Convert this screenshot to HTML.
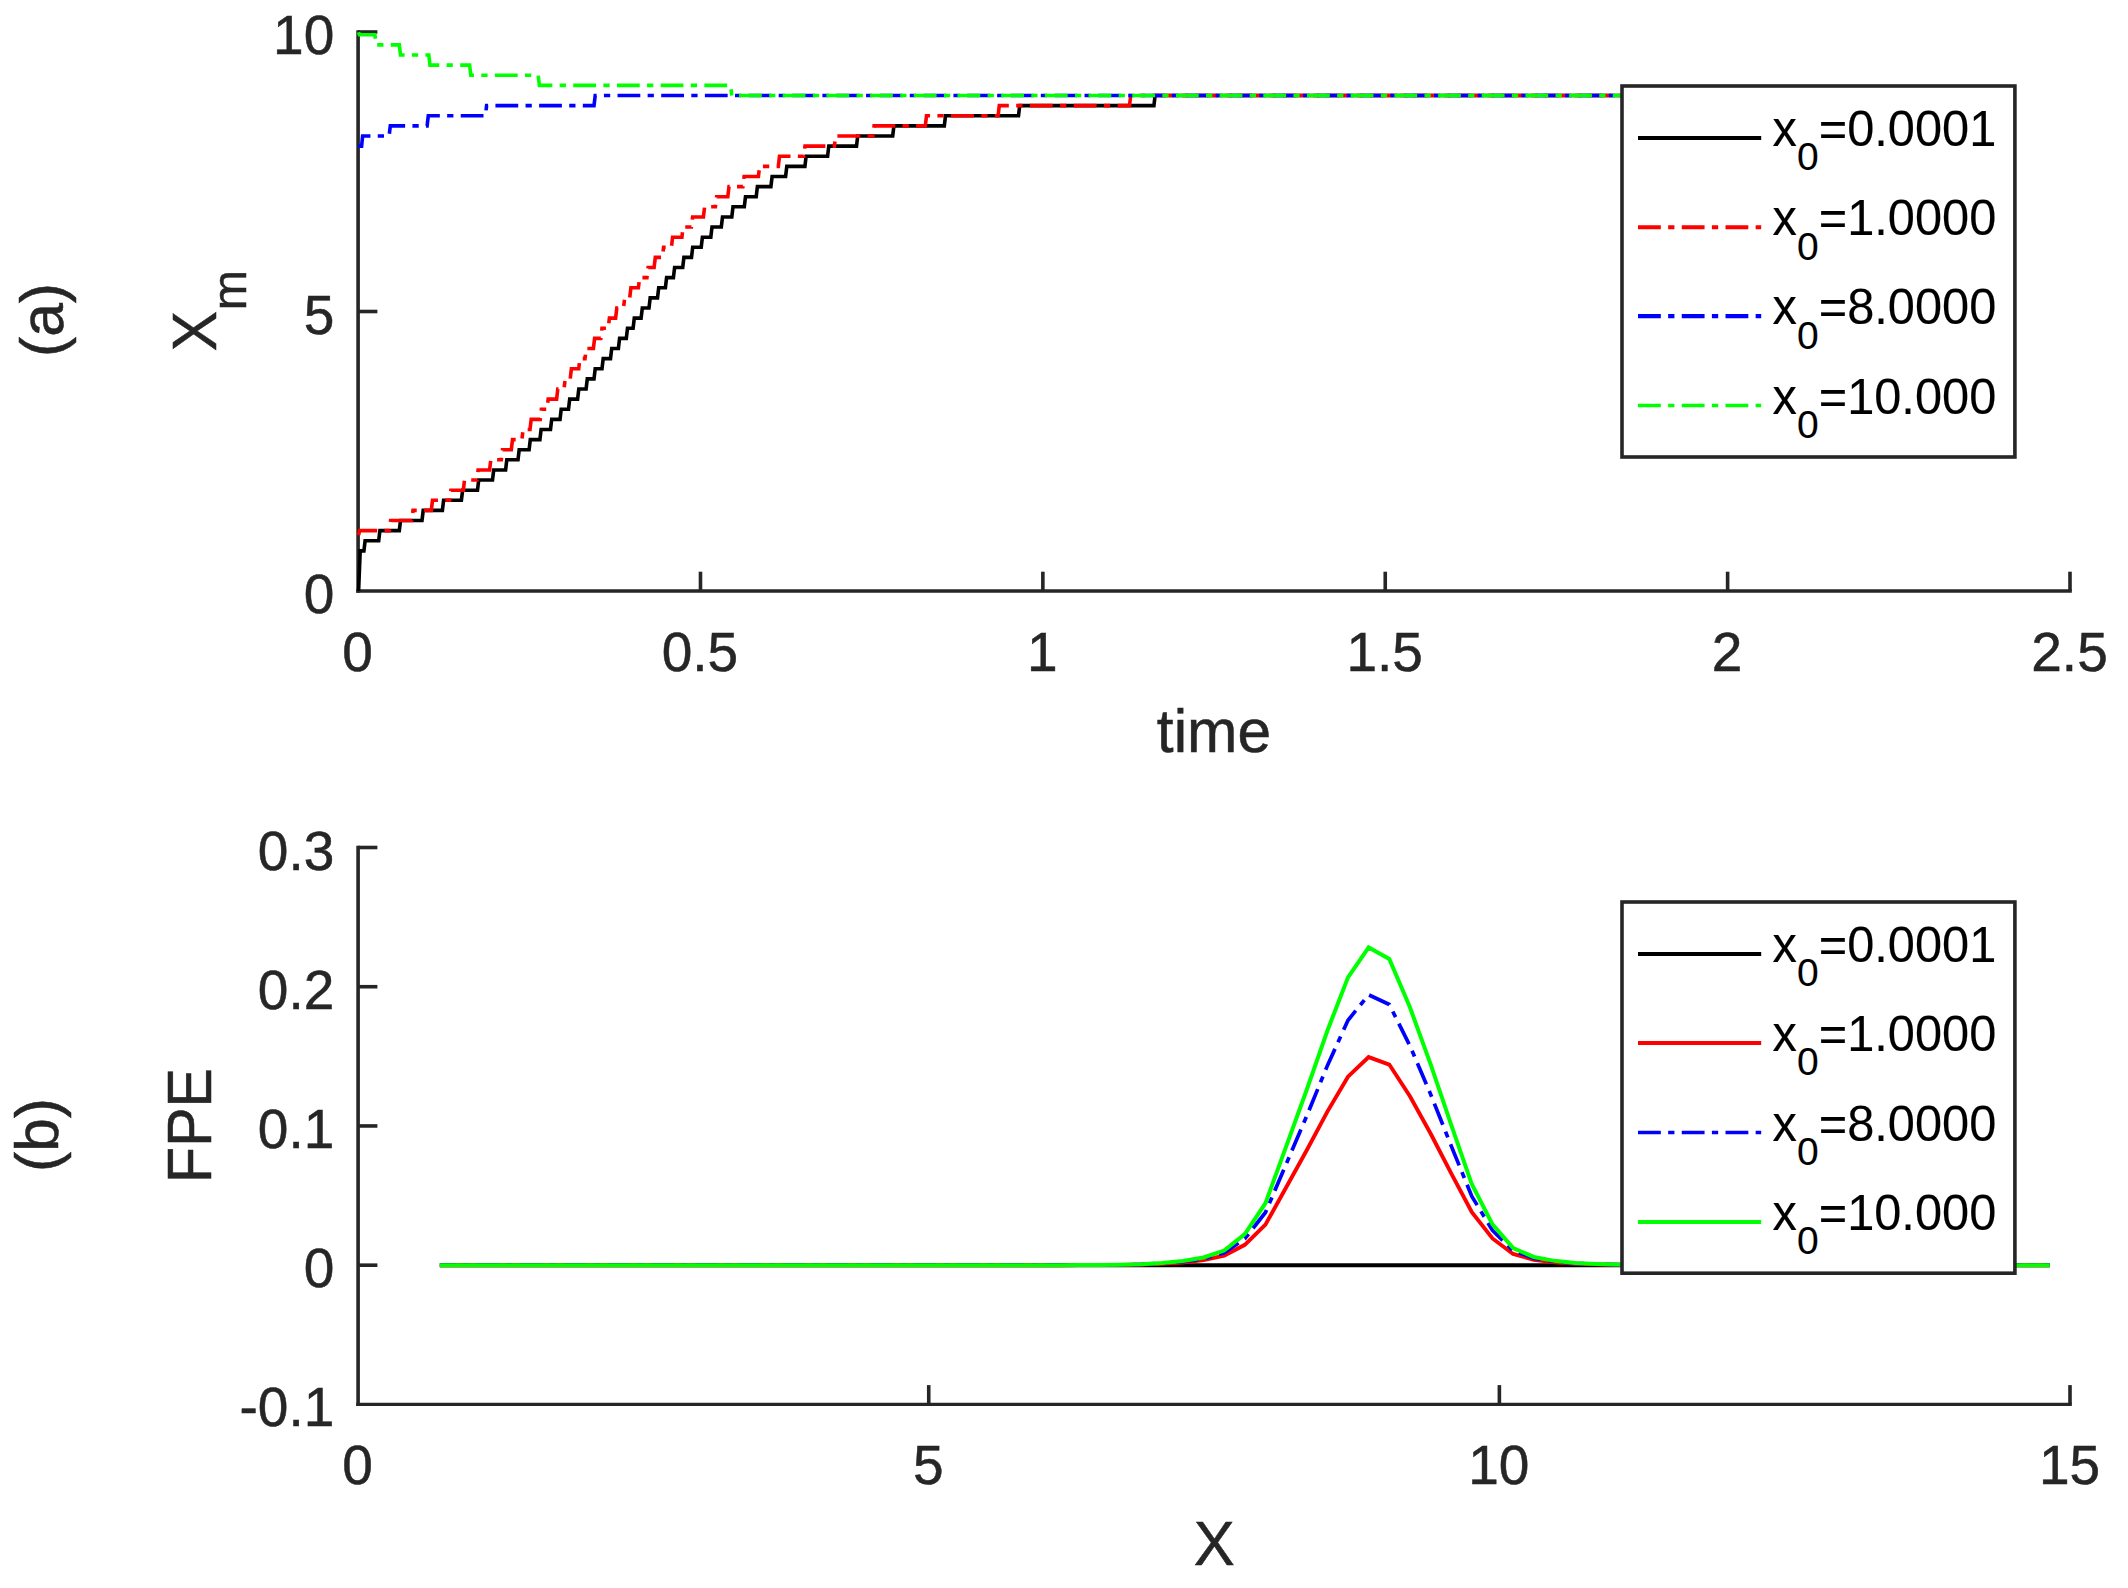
<!DOCTYPE html>
<html><head><meta charset="utf-8"><title>Xm and FPE</title>
<style>
html,body{margin:0;padding:0;background:#fff;}
body{width:2128px;height:1588px;overflow:hidden;}
svg{display:block;font-family:"Liberation Sans",sans-serif;}
</style></head><body>
<svg width="2128" height="1588" viewBox="0 0 2128 1588">
<rect width="2128" height="1588" fill="#fff"/>
<!-- top plot -->
<g stroke="#262626" stroke-width="3.60" fill="none" stroke-linecap="butt">
<path d="M358.10,30.20 L358.10,592.75"/>
<path d="M356.30,591.00 L2071.80,591.00" stroke-width="3.50"/>
<path d="M700.48,591.00 L700.48,571.70"/>
<path d="M1042.86,591.00 L1042.86,571.70"/>
<path d="M1385.24,591.00 L1385.24,571.70"/>
<path d="M1727.62,591.00 L1727.62,571.70"/>
<path d="M2070.00,591.00 L2070.00,571.70"/>
<path d="M358.10,311.50 L377.40,311.50"/>
<path d="M358.10,32.00 L377.40,32.00"/>
</g>
<g fill="#262626" stroke="#262626" stroke-width="0.5" font-size="55" text-anchor="middle">
<text x="357.60" y="670.70">0</text>
<text x="699.98" y="670.70">0.5</text>
<text x="1042.36" y="670.70">1</text>
<text x="1384.74" y="670.70">1.5</text>
<text x="1727.12" y="670.70">2</text>
<text x="2069.50" y="670.70">2.5</text>
</g>
<g fill="#262626" stroke="#262626" stroke-width="0.5" font-size="55" text-anchor="end">
<text x="334.3" y="613.00">0</text>
<text x="334.3" y="333.50">5</text>
<text x="334.3" y="54.00">10</text>
</g>
<g fill="none" stroke-linejoin="miter" stroke-linecap="butt">
<path d="M358.60,591.00 L360.20,550.90 L363.90,550.90 L365.10,540.78 L378.70,540.78 L379.90,530.66 L399.30,530.66 L400.50,520.54 L422.00,520.54 L423.20,510.42 L442.40,510.42 L443.60,500.30 L461.40,500.30 L462.60,490.18 L477.50,490.18 L478.70,480.06 L492.50,480.06 L493.70,469.94 L505.60,469.94 L506.80,459.82 L518.00,459.82 L519.20,449.70 L529.10,449.70 L530.30,439.58 L539.90,439.58 L541.10,429.46 L550.50,429.46 L551.70,419.34 L560.00,419.34 L561.20,409.22 L568.50,409.22 L569.70,399.10 L577.60,399.10 L578.80,388.98 L586.10,388.98 L587.30,378.86 L594.00,378.86 L595.20,368.74 L602.00,368.74 L603.20,358.62 L610.50,358.62 L611.70,348.50 L618.40,348.50 L619.60,338.38 L626.30,338.38 L627.50,328.26 L633.10,328.26 L634.30,318.14 L641.10,318.14 L642.30,308.02 L649.00,308.02 L650.20,297.90 L657.50,297.90 L658.70,287.78 L665.40,287.78 L666.60,277.66 L673.40,277.66 L674.60,267.54 L682.70,267.54 L683.90,257.42 L691.50,257.42 L692.70,247.30 L701.20,247.30 L702.40,237.18 L710.80,237.18 L712.00,227.06 L721.30,227.06 L722.50,216.94 L731.80,216.94 L733.00,206.82 L744.30,206.82 L745.50,196.70 L756.20,196.70 L757.40,186.58 L770.90,186.58 L772.10,176.46 L785.60,176.46 L786.80,166.34 L804.90,166.34 L806.10,156.22 L827.60,156.22 L828.80,146.10 L856.50,146.10 L857.70,135.98 L892.70,135.98 L893.90,125.86 L944.30,125.86 L945.50,115.74 L1018.50,115.74 L1019.70,105.62 L1153.90,105.62 L1155.10,95.50 L1700.00,95.50" stroke="#000" stroke-width="3.60"/>
<path d="M358.60,535.10 L359.60,530.66 L389.40,530.66 L390.60,520.54 L411.80,520.54 L413.00,510.42 L431.30,510.42 L432.50,500.30 L449.70,500.30 L450.90,490.18 L463.30,490.18 L464.50,480.06 L476.90,480.06 L478.10,469.94 L489.60,469.94 L490.80,459.82 L501.30,459.82 L502.50,449.70 L511.30,449.70 L512.50,439.58 L521.90,439.58 L523.10,429.46 L530.00,429.46 L531.20,419.34 L540.20,419.34 L541.40,409.22 L547.00,409.22 L548.20,399.10 L556.60,399.10 L557.80,388.98 L564.00,388.98 L565.20,378.86 L570.20,378.86 L571.40,368.74 L578.70,368.74 L579.90,358.62 L585.00,358.62 L586.20,348.50 L593.40,348.50 L594.60,338.38 L600.80,338.38 L602.00,328.26 L608.20,328.26 L609.40,318.14 L615.60,318.14 L616.80,308.02 L623.50,308.02 L624.70,297.90 L629.70,297.90 L630.90,287.78 L638.40,287.78 L639.60,277.66 L646.90,277.66 L648.10,267.54 L654.10,267.54 L655.30,257.42 L662.40,257.42 L663.60,247.30 L671.40,247.30 L672.60,237.18 L681.90,237.18 L683.10,227.06 L691.40,227.06 L692.60,216.94 L703.40,216.94 L704.60,206.82 L715.40,206.82 L716.60,196.70 L727.80,196.70 L729.00,186.58 L742.90,186.58 L744.10,176.46 L758.40,176.46 L759.60,166.34 L778.30,166.34 L779.50,156.22 L803.80,156.22 L805.00,146.10 L834.40,146.10 L835.60,135.98 L872.90,135.98 L874.10,125.86 L925.30,125.86 L926.50,115.74 L998.10,115.74 L999.30,105.62 L1129.50,105.62 L1130.70,95.50 L1165.00,95.50" stroke="#f00" stroke-width="3.60" stroke-dasharray="22.890 7.347 6.297 7.347" stroke-dashoffset="0.76"/>
<path d="M1165.00,95.50 L1700.00,95.50" stroke="#f00" stroke-width="3.60" stroke-dasharray="22.775 7.310 6.266 7.310" stroke-dashoffset="13.10"/>
<path d="M358.30,146.10 L361.60,146.10 L362.60,135.98 L389.10,135.98 L390.30,125.86 L427.10,125.86 L428.30,115.74 L485.40,115.74 L486.60,105.62 L594.00,105.62 L595.20,95.50 L1700.00,95.50" stroke="#00f" stroke-width="3.60" stroke-dasharray="22.790 7.315 6.270 7.315" stroke-dashoffset="1.49"/>
<path d="M358.60,32.30 L359.40,34.78 L374.90,34.78 L376.10,44.90 L399.30,44.90 L400.50,55.02 L428.80,55.02 L430.00,65.14 L469.60,65.14 L470.80,75.26 L538.20,75.26 L539.40,85.38 L730.60,85.38 L731.80,95.50 L1700.00,95.50" stroke="#0f0" stroke-width="3.60" stroke-dasharray="22.790 7.315 6.270 7.315" stroke-dashoffset="0.72"/>
</g>
<rect x="1622" y="86.00" width="392.9" height="371.00" fill="#fff" stroke="#262626" stroke-width="3.6"/>
<path d="M1638,138.00 L1761.2,138.00" stroke="#000" stroke-width="4.20" fill="none"/>
<text transform="translate(1772.6,146.10) scale(0.985,1)" font-size="49.5" fill="#000" stroke="#000" stroke-width="0.15">x<tspan font-size="39.6" dy="24.2">0</tspan><tspan dy="-24.2">=0.0001</tspan></text>
<path d="M1638,227.20 L1761.2,227.20" stroke="#f00" stroke-width="4.00" fill="none" stroke-dasharray="22.822 7.325 6.278 7.325"/>
<text transform="translate(1772.6,235.30) scale(0.985,1)" font-size="49.5" fill="#000" stroke="#000" stroke-width="0.15">x<tspan font-size="39.6" dy="24.2">0</tspan><tspan dy="-24.2">=1.0000</tspan></text>
<path d="M1638,316.20 L1761.2,316.20" stroke="#00f" stroke-width="4.20" fill="none" stroke-dasharray="22.822 7.325 6.278 7.325"/>
<text transform="translate(1772.6,324.30) scale(0.985,1)" font-size="49.5" fill="#000" stroke="#000" stroke-width="0.15">x<tspan font-size="39.6" dy="24.2">0</tspan><tspan dy="-24.2">=8.0000</tspan></text>
<path d="M1638,405.50 L1761.2,405.50" stroke="#0f0" stroke-width="3.40" fill="none" stroke-dasharray="22.822 7.325 6.278 7.325"/>
<text transform="translate(1772.6,413.60) scale(0.985,1)" font-size="49.5" fill="#000" stroke="#000" stroke-width="0.15">x<tspan font-size="39.6" dy="24.2">0</tspan><tspan dy="-24.2">=10.000</tspan></text>
<!-- bottom plot -->
<g stroke="#262626" stroke-width="3.60" fill="none" stroke-linecap="butt">
<path d="M358.10,845.70 L358.10,1405.95"/>
<path d="M356.30,1404.40 L2071.80,1404.40" stroke-width="3.10"/>
<path d="M928.73,1404.40 L928.73,1385.10"/>
<path d="M1499.37,1404.40 L1499.37,1385.10"/>
<path d="M2070.00,1404.40 L2070.00,1385.10"/>
<path d="M358.10,1265.18 L377.40,1265.18"/>
<path d="M358.10,1125.95 L377.40,1125.95"/>
<path d="M358.10,986.72 L377.40,986.72"/>
<path d="M358.10,847.50 L377.40,847.50"/>
</g>
<g fill="#262626" stroke="#262626" stroke-width="0.5" font-size="55" text-anchor="middle">
<text x="357.60" y="1483.60">0</text>
<text x="928.23" y="1483.60">5</text>
<text x="1498.87" y="1483.60">10</text>
<text x="2069.50" y="1483.60">15</text>
</g>
<g fill="#262626" stroke="#262626" stroke-width="0.5" font-size="55" text-anchor="end">
<text x="334.3" y="1426.40">-0.1</text>
<text x="334.3" y="1287.18">0</text>
<text x="334.3" y="1147.95">0.1</text>
<text x="334.3" y="1008.72">0.2</text>
<text x="334.3" y="869.50">0.3</text>
</g>
<g fill="none" stroke-linejoin="miter" stroke-linecap="butt">
<path d="M439.85,1265.18 L2049.77,1265.18" stroke="#000" stroke-width="3.9"/>
<path d="M439.85,1265.18 L460.49,1265.18 L481.13,1265.18 L501.77,1265.18 L522.41,1265.18 L543.05,1265.18 L563.69,1265.18 L584.33,1265.18 L604.97,1265.18 L625.61,1265.18 L646.25,1265.18 L666.89,1265.18 L687.53,1265.18 L708.17,1265.18 L728.81,1265.18 L749.45,1265.18 L770.09,1265.18 L790.73,1265.18 L811.37,1265.18 L832.01,1265.18 L852.65,1265.18 L873.29,1265.18 L893.93,1265.18 L914.57,1265.18 L935.21,1265.18 L955.85,1265.18 L976.49,1265.18 L997.13,1265.18 L1017.77,1265.18 L1038.41,1265.18 L1059.05,1265.18 L1079.69,1265.13 L1100.33,1265.08 L1120.97,1264.90 L1141.61,1264.54 L1162.25,1263.72 L1182.89,1262.44 L1203.53,1260.16 L1224.17,1255.60 L1244.81,1244.84 L1265.45,1224.59 L1286.09,1187.48 L1306.73,1150.27 L1327.37,1111.61 L1348.01,1076.68 L1368.65,1057.07 L1389.29,1064.55 L1409.93,1096.29 L1430.57,1133.49 L1451.21,1173.34 L1471.85,1212.19 L1492.49,1238.46 L1513.13,1253.96 L1533.77,1259.79 L1554.41,1262.35 L1575.05,1263.72 L1595.69,1264.35 L1616.33,1264.81 L1636.97,1264.99 L1657.61,1265.08 L1678.25,1265.18 L1698.89,1265.18 L1719.53,1265.18 L1740.17,1265.18 L1760.81,1265.18 L1781.45,1265.18 L1802.09,1265.18 L1822.73,1265.18 L1843.37,1265.18 L1864.01,1265.18 L1884.65,1265.18 L1905.29,1265.18 L1925.93,1265.18 L1946.57,1265.18 L1967.21,1265.18 L1987.85,1265.18 L2008.49,1265.18 L2029.13,1265.18 L2049.77,1265.18" stroke="#f00" stroke-width="3.9"/>
<path d="M439.85,1265.18 L460.49,1265.18 L481.13,1265.18 L501.77,1265.18 L522.41,1265.18 L543.05,1265.18 L563.69,1265.18 L584.33,1265.18 L604.97,1265.18 L625.61,1265.18 L646.25,1265.18 L666.89,1265.18 L687.53,1265.18 L708.17,1265.18 L728.81,1265.18 L749.45,1265.18 L770.09,1265.18 L790.73,1265.18 L811.37,1265.18 L832.01,1265.18 L852.65,1265.18 L873.29,1265.18 L893.93,1265.18 L914.57,1265.18 L935.21,1265.18 L955.85,1265.18 L976.49,1265.18 L997.13,1265.18 L1017.77,1265.18 L1038.41,1265.18 L1059.05,1265.18 L1079.69,1265.12 L1100.33,1265.06 L1120.97,1264.82 L1141.61,1264.35 L1162.25,1263.28 L1182.89,1261.62 L1203.53,1258.66 L1224.17,1252.73 L1244.81,1238.75 L1265.45,1212.45 L1286.09,1164.23 L1306.73,1115.89 L1327.37,1065.65 L1348.01,1020.28 L1368.65,994.80 L1389.29,1004.52 L1409.93,1045.75 L1430.57,1094.09 L1451.21,1145.87 L1471.85,1196.34 L1492.49,1230.46 L1513.13,1250.60 L1533.77,1258.18 L1554.41,1261.50 L1575.05,1263.28 L1595.69,1264.11 L1616.33,1264.70 L1636.97,1264.94 L1657.61,1265.06 L1678.25,1265.18 L1698.89,1265.18 L1719.53,1265.18 L1740.17,1265.18 L1760.81,1265.18 L1781.45,1265.18 L1802.09,1265.18 L1822.73,1265.18 L1843.37,1265.18 L1864.01,1265.18 L1884.65,1265.18 L1905.29,1265.18 L1925.93,1265.18 L1946.57,1265.18 L1967.21,1265.18 L1987.85,1265.18 L2008.49,1265.18 L2029.13,1265.18 L2049.77,1265.18" stroke="#00f" stroke-width="3.7" stroke-dasharray="22.822 7.325 6.278 7.325" stroke-dashoffset="7.5"/>
<path d="M439.85,1265.18 L460.49,1265.18 L481.13,1265.18 L501.77,1265.18 L522.41,1265.18 L543.05,1265.18 L563.69,1265.18 L584.33,1265.18 L604.97,1265.18 L625.61,1265.18 L646.25,1265.18 L666.89,1265.18 L687.53,1265.18 L708.17,1265.18 L728.81,1265.18 L749.45,1265.18 L770.09,1265.18 L790.73,1265.18 L811.37,1265.18 L832.01,1265.18 L852.65,1265.18 L873.29,1265.18 L893.93,1265.18 L914.57,1265.18 L935.21,1265.18 L955.85,1265.18 L976.49,1265.18 L997.13,1265.18 L1017.77,1265.18 L1038.41,1265.18 L1059.05,1265.18 L1079.69,1265.11 L1100.33,1265.04 L1120.97,1264.76 L1141.61,1264.20 L1162.25,1262.95 L1182.89,1261.00 L1203.53,1257.52 L1224.17,1250.56 L1244.81,1234.13 L1265.45,1203.22 L1286.09,1146.56 L1306.73,1089.75 L1327.37,1030.72 L1348.01,977.40 L1368.65,947.46 L1389.29,958.88 L1409.93,1007.33 L1430.57,1064.13 L1451.21,1124.98 L1471.85,1184.29 L1492.49,1224.38 L1513.13,1248.05 L1533.77,1256.96 L1554.41,1260.86 L1575.05,1262.95 L1595.69,1263.92 L1616.33,1264.62 L1636.97,1264.90 L1657.61,1265.04 L1678.25,1265.18 L1698.89,1265.18 L1719.53,1265.18 L1740.17,1265.18 L1760.81,1265.18 L1781.45,1265.18 L1802.09,1265.18 L1822.73,1265.18 L1843.37,1265.18 L1864.01,1265.18 L1884.65,1265.18 L1905.29,1265.18 L1925.93,1265.18 L1946.57,1265.18 L1967.21,1265.18 L1987.85,1265.18 L2008.49,1265.18 L2029.13,1265.18 L2049.77,1265.18" stroke="#0f0" stroke-width="4.0"/>
</g>
<rect x="1622" y="902.00" width="392.9" height="371.20" fill="#fff" stroke="#262626" stroke-width="3.6"/>
<path d="M1638,954.00 L1761.2,954.00" stroke="#000" stroke-width="4.20" fill="none"/>
<text transform="translate(1772.6,962.10) scale(0.985,1)" font-size="49.5" fill="#000" stroke="#000" stroke-width="0.15">x<tspan font-size="39.6" dy="24.2">0</tspan><tspan dy="-24.2">=0.0001</tspan></text>
<path d="M1638,1043.00 L1761.2,1043.00" stroke="#f00" stroke-width="3.90" fill="none"/>
<text transform="translate(1772.6,1051.10) scale(0.985,1)" font-size="49.5" fill="#000" stroke="#000" stroke-width="0.15">x<tspan font-size="39.6" dy="24.2">0</tspan><tspan dy="-24.2">=1.0000</tspan></text>
<path d="M1638,1132.50 L1761.2,1132.50" stroke="#00f" stroke-width="3.40" fill="none" stroke-dasharray="22.822 7.325 6.278 7.325"/>
<text transform="translate(1772.6,1140.60) scale(0.985,1)" font-size="49.5" fill="#000" stroke="#000" stroke-width="0.15">x<tspan font-size="39.6" dy="24.2">0</tspan><tspan dy="-24.2">=8.0000</tspan></text>
<path d="M1638,1222.00 L1761.2,1222.00" stroke="#0f0" stroke-width="4.10" fill="none"/>
<text transform="translate(1772.6,1230.10) scale(0.985,1)" font-size="49.5" fill="#000" stroke="#000" stroke-width="0.15">x<tspan font-size="39.6" dy="24.2">0</tspan><tspan dy="-24.2">=10.000</tspan></text>
<!-- labels -->
<g fill="#262626" stroke="#262626" stroke-width="0.5" font-size="60.5">
<text x="1214" y="751.7" text-anchor="middle">time</text>
<text transform="translate(1214.3,1564.8) scale(1.015,1.047)" text-anchor="middle">X</text>
<text transform="translate(63.1,320) rotate(-90)" text-anchor="middle">(a)</text>
<text transform="translate(57.7,1135) rotate(-90)" text-anchor="middle">(b)</text>
<text transform="translate(215.8,351.2) rotate(-90) scale(1,1.047)">X</text>
<text transform="translate(245.8,310.3) rotate(-90)" font-size="48.4">m</text>
<text transform="translate(211,1125.5) rotate(-90) scale(0.976,1.045)" text-anchor="middle">FPE</text>
</g>
</svg>
</body></html>
